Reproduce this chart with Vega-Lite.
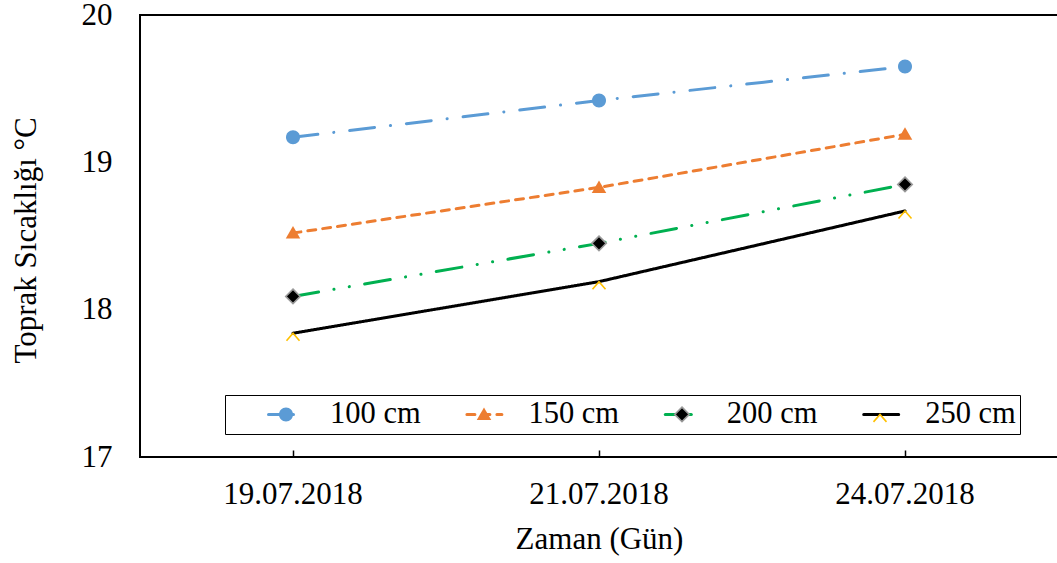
{
  "$schema": "https://vega.github.io/schema/vega-lite/v6.json",
  "width": 918,
  "height": 442,
  "autosize": {"type": "none"},
  "padding": {"left": 140, "top": 15, "right": 0, "bottom": 106},
  "background": "white",
  "data": {
    "values": [
      {"date": "19.07.2018", "depth": "100 cm", "temp": 19.17},
      {"date": "21.07.2018", "depth": "100 cm", "temp": 19.42},
      {"date": "24.07.2018", "depth": "100 cm", "temp": 19.65},
      {"date": "19.07.2018", "depth": "150 cm", "temp": 18.52},
      {"date": "21.07.2018", "depth": "150 cm", "temp": 18.83},
      {"date": "24.07.2018", "depth": "150 cm", "temp": 19.19},
      {"date": "19.07.2018", "depth": "200 cm", "temp": 18.09},
      {"date": "21.07.2018", "depth": "200 cm", "temp": 18.45},
      {"date": "24.07.2018", "depth": "200 cm", "temp": 18.85},
      {"date": "19.07.2018", "depth": "250 cm", "temp": 17.84},
      {"date": "21.07.2018", "depth": "250 cm", "temp": 18.19},
      {"date": "24.07.2018", "depth": "250 cm", "temp": 18.67}
    ]
  },
  "encoding": {
    "x": {
      "field": "date",
      "type": "nominal",
      "sort": null,
      "scale": {"type": "band", "paddingInner": 0, "paddingOuter": 0},
      "axis": {
        "title": "Zaman (Gün)",
        "labelAngle": 0,
        "domain": false,
        "ticks": true,
        "tickSize": -7,
        "tickWidth": 1.5,
        "tickColor": "#000",
        "labelBaseline": "alphabetic",
        "labelPadding": 53,
        "titleBaseline": "alphabetic",
        "titleY": 91,
        "titleX": 459,
        "titleAlign": "center"
      }
    },
    "y": {
      "field": "temp",
      "type": "quantitative",
      "scale": {"domain": [17, 20], "nice": false, "zero": false},
      "axis": {
        "title": "Toprak Sıcaklığı °C",
        "values": [17, 18, 19, 20],
        "format": "d",
        "domain": false,
        "ticks": false,
        "labelPadding": 28,
        "titleAngle": 270,
        "titleBaseline": "alphabetic",
        "titleAlign": "center",
        "titleX": -105,
        "titleY": 225
      }
    }
  },
  "layer": [
    {
      "mark": {"type": "line", "strokeWidth": 3, "strokeCap": "round"},
      "encoding": {
        "stroke": {
          "field": "depth",
          "type": "nominal",
          "scale": {
            "domain": ["100 cm", "150 cm", "200 cm", "250 cm"],
            "range": ["#5B9BD5", "#ED7D31", "#00B050", "#000000"]
          },
          "legend": {
            "title": null,
            "orient": "none",
            "legendX": 85,
            "legendY": 380,
            "direction": "horizontal",
            "columns": 4,
            "symbolType": "M-3.5,0H3.5",
            "symbolSize": 100,
            "symbolStrokeWidth": 3,
            "symbolOffset": 41.75,
            "labelOffset": 28.75,
            "columnPadding": 6.4,
            "padding": 4,
            "strokeColor": "#000",
            "labelFontSize": 30.5,
            "encode": {"symbols": {"update": {"strokeCap": {"value": "round"}}}}
          }
        },
        "strokeDash": {
          "field": "depth",
          "type": "nominal",
          "scale": {
            "domain": ["100 cm", "150 cm", "200 cm", "250 cm"],
            "range": [[25, 16, 0.1, 16], [8, 7], [26, 15.5, 0.1, 15.5, 0.1, 15.5], [1, 0]]
          }
        }
      }
    },
    {
      "mark": {"type": "point", "filled": false, "size": 100, "strokeWidth": 1.6, "opacity": 1},
      "encoding": {
        "color": {
          "field": "depth",
          "type": "nominal",
          "scale": {"range": ["transparent", "transparent", "#9a9a9a", "#FFC000"]},
          "legend": {
            "title": null,
            "orient": "none",
            "legendX": 85,
            "legendY": 380,
            "direction": "horizontal",
            "columns": 4,
            "symbolSize": 100,
            "symbolStrokeWidth": 1.6,
            "symbolOpacity": 1,
            "symbolOffset": 41.75,
            "labelOffset": 28.75,
            "columnPadding": 97,
            "padding": 4,
            "labelFontSize": 30.5,
            "labelExpr": "''"
          }
        },
        "fill": {
          "field": "depth",
          "type": "nominal",
          "scale": {"range": ["#5B9BD5", "#ED7D31", "#000000", "transparent"]}
        },
        "shape": {
          "field": "depth",
          "type": "nominal",
          "scale": {
            "range": [
              "M1.4,0A1.4,1.4,0,1,1,-1.4,0A1.4,1.4,0,1,1,1.4,0Z",
              "M0,-1.4L1.45,1.1L-1.45,1.1Z",
              "M0,-1.45L1.45,0L0,1.45L-1.45,0Z",
              "M-1.3,1.5L0,0L1.3,1.5"
            ]
          }
        }
      }
    }
  ],
  "config": {
    "font": "Liberation Serif",
    "view": {"stroke": "#000", "strokeWidth": 2},
    "axis": {
      "grid": false,
      "labelFont": "Liberation Serif",
      "labelFontSize": 31,
      "labelColor": "#000",
      "titleFont": "Liberation Serif",
      "titleFontSize": 31,
      "titleFontWeight": "normal",
      "titleColor": "#000"
    },
    "legend": {
      "labelFont": "Liberation Serif",
      "labelColor": "#000",
      "labelLimit": 0
    }
  }
}
